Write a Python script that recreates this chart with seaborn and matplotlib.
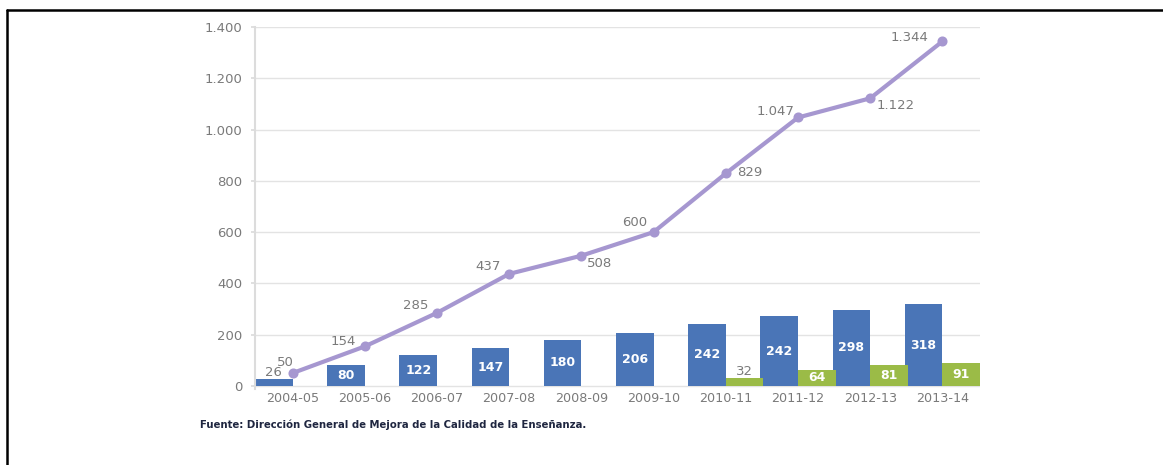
import numpy as np
import pandas as pd
import matplotlib
matplotlib.use("Agg")
import matplotlib.pyplot as plt
from matplotlib.lines import Line2D
import seaborn as sns

years = ["2004-05", "2005-06", "2006-07", "2007-08", "2008-09",
         "2009-10", "2010-11", "2011-12", "2012-13", "2013-14"]
blue_vals = [26, 80, 122, 147, 180, 206, 242, 272, 298, 318]
blue_labels = ["26", "80", "122", "147", "180", "206", "242", "242", "298", "318"]
green_years = ["2010-11", "2011-12", "2012-13", "2013-14"]
green_vals = [32, 64, 81, 91]
line_vals = [50, 154, 285, 437, 508, 600, 829, 1047, 1122, 1344]

BLUE = "#4a75b7"
GREEN = "#9bbb47"
PURPLE = "#a697d0"
GRAY_TXT = "#7a7a7a"


def fmt(v):
    return f"{v:,}".replace(",", ".")


sns.set_theme(style="white")
plt.rcParams["font.family"] = ["DejaVu Sans"]

bars = pd.concat([
    pd.DataFrame({"year": years, "val": blue_vals, "serie": "A"}),
    pd.DataFrame({"year": green_years, "val": green_vals, "serie": "B"}),
])

W, H = 1163, 465
fig = plt.figure(figsize=(W / 100, H / 100), dpi=100)
ax = fig.add_axes([255 / W, 1 - 389 / H, (980 - 255) / W, (389 - 27) / H])

sns.barplot(data=bars, x="year", y="val", hue="serie", order=years,
            hue_order=["A", "B"], palette=[BLUE, GREEN], width=1.04,
            ax=ax, legend=False, saturation=1, edgecolor="none")
sns.pointplot(x=years, y=line_vals, order=years, color=PURPLE, ax=ax,
              markers="o", markersize=5, linewidth=3)

ax.set_xlim(-0.52, 9.52)
ax.set_ylim(-12, 1400)
ax.set_yticks(np.arange(0, 1401, 200))
ax.set_yticklabels([fmt(v) for v in range(0, 1401, 200)])
ax.yaxis.grid(True, color="#e3e3e3", linewidth=1)
ax.set_axisbelow(True)
ax.set_xlabel("")
ax.set_ylabel("")
for s in ["top", "right", "bottom"]:
    ax.spines[s].set_visible(False)
ax.spines["left"].set_color("#dcdcdc")
ax.spines["left"].set_linewidth(1.5)
ax.tick_params(axis="y", length=3, color="#dcdcdc", labelsize=9.5,
               labelcolor=GRAY_TXT, pad=6, left=True)
ax.tick_params(axis="x", length=0, labelsize=9.2, labelcolor=GRAY_TXT, pad=2)

# bar labels
for i, (v, lab) in enumerate(zip(blue_vals, blue_labels)):
    x = i - 0.26
    if v < 40:
        ax.text(x, v, lab, ha="center", va="bottom", fontsize=9.5,
                color=GRAY_TXT)
    else:
        ax.text(x, v / 2, lab, ha="center", va="center", fontsize=9,
                color="white", fontweight="bold")
for yr, v in zip(green_years, green_vals):
    x = years.index(yr) + 0.26
    if v < 40:
        ax.text(x, v, str(v), ha="center", va="bottom", fontsize=9.5,
                color=GRAY_TXT)
    else:
        ax.text(x, v / 2, str(v), ha="center", va="center", fontsize=9,
                color="white", fontweight="bold")

# line labels
offsets = [(-7, 11), (-22, 5), (-21, 7), (-21, 7), (18, -8),
           (-19, 10), (24, 1), (-23, 6), (25, -7), (-33, 4)]
for i, (v, off) in enumerate(zip(line_vals, offsets)):
    ax.annotate(fmt(v), (i, v), xytext=off, textcoords="offset pixels",
                ha="center", va="center", fontsize=9.5, color=GRAY_TXT)

fig.text(200 / W, 1 - 425 / H,
         "Fuente: Dirección General de Mejora de la Calidad de la Enseñanza.",
         fontsize=7.3, fontweight="bold", color="#1f2640",
         ha="left", va="center")

# frame lines
fig.add_artist(Line2D([7 / W, 1], [1 - 10.5 / H] * 2, color="black",
                      linewidth=1.8, transform=fig.transFigure))
fig.add_artist(Line2D([7 / W] * 2, [0, 1 - 10.5 / H], color="black",
                      linewidth=1.8, transform=fig.transFigure))

fig.savefig("out.png", dpi=100)
